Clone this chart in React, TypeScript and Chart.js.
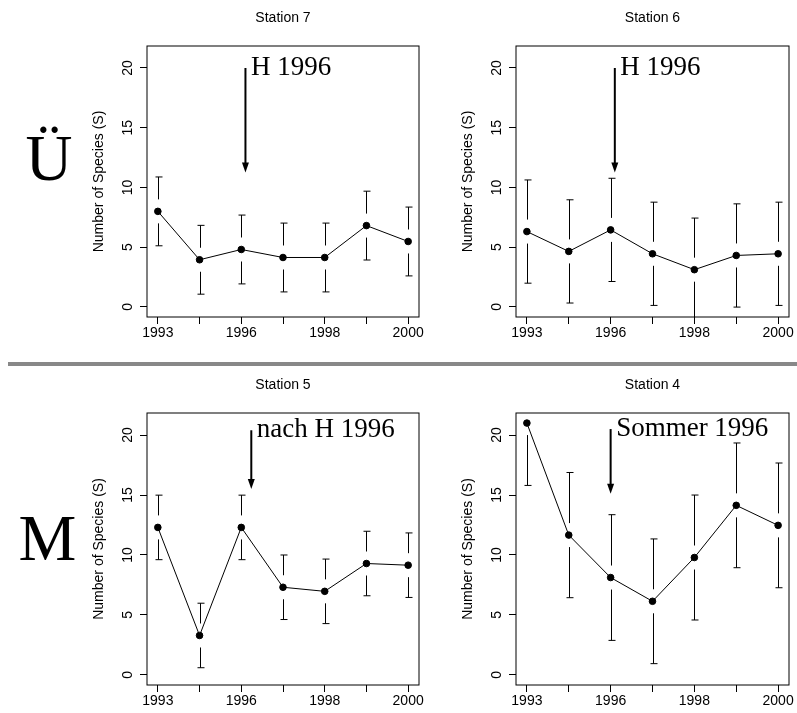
import React, { useEffect, useRef } from 'react';
import { Chart, registerables } from 'chart.js';

Chart.register(...registerables);

// ---- data ----
const xTickLabels = ['1993', '', '1996', '', '1998', '', '2000'];
const yTickValues = [0, 5, 10, 15, 20];

const station7Mean = [8.0, 3.95, 4.81, 4.14, 4.14, 6.81, 5.48];
const station7Err = [2.88, 2.88, 2.88, 2.88, 2.88, 2.88, 2.88];

const station6Mean = [6.31, 4.65, 6.45, 4.45, 3.12, 4.31, 4.45];
const station6Err = [4.32, 4.32, 4.32, 4.32, 4.32, 4.32, 4.32];

const station5Mean = [12.3, 3.29, 12.3, 7.31, 6.97, 9.29, 9.15];
const station5Err = [2.69, 2.69, 2.69, 2.69, 2.69, 2.69, 2.69];

const station4Mean = [21.0, 11.66, 8.12, 6.14, 9.79, 14.14, 12.47];
const station4Err = [5.2, 5.22, 5.24, 5.2, 5.21, 5.2, 5.2];

const panelTitles = ['Station 7', 'Station 6', 'Station 5', 'Station 4'];
const panelNotes = ['H 1996', 'H 1996', 'nach H 1996', 'Sommer 1996'];
const rowLabels = ['Ü', 'M'];
const yAxisTitle = 'Number of Species (S)';

// arrow placement in data units: [x index, top value, tip value]
const arrowTL = [2.1, 20, 11.25];
const arrowTR = [2.1, 20, 11.25];
const arrowBL = [2.24, 20.4, 15.5];
const arrowBR = [2.0, 20.5, 15.1];

const SANS = 'Liberation Sans, Arial, Helvetica, sans-serif';
const SERIF = 'Liberation Serif, "Times New Roman", serif';

type PanelProps = {
  title: string;
  note: string;
  mean: number[];
  err: number[];
  arrow: number[];
  left: number;
  top: number;
  width: number;
  height: number;
};

function Panel(p: PanelProps) {
  const ref = useRef<HTMLCanvasElement>(null);

  useEffect(() => {
    const canvas = ref.current;
    if (!canvas) return;
    const GAP = 12;
    const CAP = 3;

    const extras = {
      id: 'extras',
      afterDatasetsDraw(chart: any) {
        const { ctx, chartArea, scales } = chart;
        const x = scales.x;
        const y = scales.y;
        // error bars
        ctx.save();
        ctx.beginPath();
        ctx.rect(chartArea.left, chartArea.top, chartArea.right - chartArea.left, chartArea.bottom - chartArea.top);
        ctx.clip();
        ctx.strokeStyle = '#000';
        ctx.lineWidth = 1;
        p.mean.forEach((m, i) => {
          const px = Math.round(x.getPixelForValue(i)) + 0.5;
          const py = y.getPixelForValue(m);
          const yt = y.getPixelForValue(m + p.err[i]);
          const yb = y.getPixelForValue(m - p.err[i]);
          ctx.beginPath();
          if (py - GAP > yt) {
            ctx.moveTo(px, py - GAP);
            ctx.lineTo(px, yt);
          }
          ctx.moveTo(px - CAP, yt);
          ctx.lineTo(px + CAP + 1, yt);
          if (py + GAP < yb) {
            ctx.moveTo(px, py + GAP);
            ctx.lineTo(px, yb);
          }
          ctx.moveTo(px - CAP, yb);
          ctx.lineTo(px + CAP + 1, yb);
          ctx.stroke();
        });
        ctx.restore();

        // box
        ctx.save();
        ctx.strokeStyle = '#000';
        ctx.lineWidth = 1;
        ctx.strokeRect(chartArea.left, chartArea.top, chartArea.right - chartArea.left, chartArea.bottom - chartArea.top);
        ctx.restore();

        // arrow + note
        const ax = x.getPixelForValue(p.arrow[0]);
        const at = y.getPixelForValue(p.arrow[1]);
        const tip = y.getPixelForValue(p.arrow[2]);
        ctx.save();
        ctx.strokeStyle = '#000';
        ctx.fillStyle = '#000';
        ctx.lineWidth = 2;
        ctx.beginPath();
        ctx.moveTo(ax, at);
        ctx.lineTo(ax, tip - 8);
        ctx.stroke();
        ctx.beginPath();
        ctx.moveTo(ax - 3.5, tip - 10);
        ctx.lineTo(ax + 3.5, tip - 10);
        ctx.lineTo(ax, tip);
        ctx.closePath();
        ctx.fill();
        ctx.font = '27px ' + SERIF;
        ctx.textAlign = 'left';
        ctx.textBaseline = 'alphabetic';
        ctx.fillText(p.note, ax + 5.5, at + 7);
        ctx.restore();
      },
    };

    const font = { family: SANS, size: 14 };
    const chart = new Chart(canvas, {
      type: 'line',
      data: {
        datasets: [
          {
            data: p.mean.map((v, i) => ({ x: i, y: v })),
            borderColor: '#000',
            borderWidth: 1,
            backgroundColor: '#000',
            pointRadius: 3.3,
            pointBorderWidth: 1,
            pointBackgroundColor: '#000',
            pointBorderColor: '#000',
            tension: 0,
            fill: false,
          },
        ],
      },
      options: {
        animation: false,
        responsive: false,
        maintainAspectRatio: false,
        events: [],
        layout: { padding: { left: 0, right: 5, top: 0, bottom: 0 } },
        plugins: {
          legend: { display: false },
          tooltip: { enabled: false },
          title: {
            display: true,
            text: p.title,
            color: '#000',
            fullSize: false,
            font: { family: SANS, size: 14, weight: 'normal' },
            padding: { top: 9.6, bottom: 19.6 },
          },
        },
        scales: {
          x: {
            type: 'linear',
            min: -0.26,
            max: 6.26,
            afterBuildTicks: (s: any) => {
              s.ticks = xTickLabels.map((_, i) => ({ value: i }));
            },
            afterFit: (s: any) => {
              s.height = 28;
              s.paddingLeft = 0;
              s.paddingRight = 0;
            },
            grid: { display: true, drawOnChartArea: false, drawTicks: true, tickLength: 7, color: '#000', lineWidth: 1 },
            border: { display: false },
            ticks: {
              autoSkip: false,
              minRotation: 0,
              maxRotation: 0,
              padding: 1,
              color: '#000',
              font,
              callback: (v: any) => xTickLabels[Math.round(Number(v))] ?? '',
            },
          },
          y: {
            type: 'linear',
            min: -0.84,
            max: 21.84,
            afterBuildTicks: (s: any) => {
              s.ticks = yTickValues.map((v) => ({ value: v }));
            },
            afterFit: (s: any) => {
              s.width = 63;
              s.paddingTop = 0;
              s.paddingBottom = 0;
            },
            grid: { display: true, drawOnChartArea: false, drawTicks: true, tickLength: 7, color: '#000', lineWidth: 1 },
            border: { display: false },
            ticks: {
              minRotation: 90,
              maxRotation: 90,
              crossAlign: 'center',
              padding: 4,
              color: '#000',
              font,
              callback: (v: any) => String(v),
            },
            title: {
              display: true,
              text: yAxisTitle,
              color: '#000',
              font,
              padding: { top: 6.6, bottom: 0 },
            },
          },
        },
      } as any,
      plugins: [extras],
    });
    return () => chart.destroy();
  }, [p]);

  return (
    <canvas
      ref={ref}
      width={p.width}
      height={p.height}
      style={{ position: 'absolute', left: p.left, top: p.top, width: p.width, height: p.height, display: 'block' }}
    />
  );
}

const panels: PanelProps[] = [
  { title: panelTitles[0], note: panelNotes[0], mean: station7Mean, err: station7Err, arrow: arrowTL, left: 84, top: 0, width: 340, height: 345 },
  { title: panelTitles[1], note: panelNotes[1], mean: station6Mean, err: station6Err, arrow: arrowTR, left: 453, top: 0, width: 341, height: 345 },
  { title: panelTitles[2], note: panelNotes[2], mean: station5Mean, err: station5Err, arrow: arrowBL, left: 84, top: 367, width: 340, height: 346 },
  { title: panelTitles[3], note: panelNotes[3], mean: station4Mean, err: station4Err, arrow: arrowBR, left: 453, top: 367, width: 341, height: 346 },
];

export default function App() {
  return (
    <div style={{ position: 'absolute', left: 0, top: 0, width: 797, height: 713, background: '#fff', overflow: 'hidden' }}>
      {panels.map((p, i) => (
        <Panel key={i} {...p} />
      ))}
      <div style={{ position: 'absolute', left: 8, top: 362, width: 789, height: 4, background: '#888' }} />
      <div
        style={{
          position: 'absolute',
          left: -1,
          top: 125.6,
          width: 100,
          textAlign: 'center',
          fontFamily: SERIF,
          fontSize: 65,
          lineHeight: '65px',
          color: '#000',
        }}
      >
        {rowLabels[0]}
      </div>
      <div
        style={{
          position: 'absolute',
          left: -2.5,
          top: 505.6,
          width: 100,
          textAlign: 'center',
          fontFamily: SERIF,
          fontSize: 65,
          lineHeight: '65px',
          color: '#000',
        }}
      >
        {rowLabels[1]}
      </div>
    </div>
  );
}
